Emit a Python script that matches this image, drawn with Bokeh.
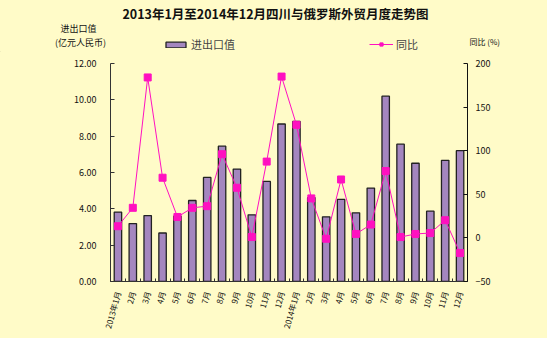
from bokeh.plotting import figure
from bokeh.layouts import column
from bokeh.models import (Range1d, LinearAxis, FixedTicker, Label, Legend, LegendItem,
                          ColumnDataSource)
from bokeh.embed import file_html
from bokeh.resources import INLINE

months = ["2013年1月", "2月", "3月", "4月", "5月", "6月", "7月", "8月", "9月", "10月", "11月", "12月",
          "2014年1月", "2月", "3月", "4月", "5月", "6月", "7月", "8月", "9月", "10月", "11月", "12月"]
trade_value = [3.82, 3.19, 3.63, 2.67, 3.60, 4.46, 5.73, 7.45, 6.19, 3.67, 5.51, 8.67,
               8.81, 4.62, 3.56, 4.52, 3.78, 5.14, 10.20, 7.56, 6.51, 3.87, 6.67, 7.20]
yoy = [13.4, 34.5, 184, 69, 24, 34.5, 36.4, 96, 57.5, 1, 87.5, 185,
       129.7, 45.3, -1, 67, 4.5, 15.3, 76.7, 1, 4.5, 5.6, 20.3, -17.4]
left_ticks = [0, 2, 4, 6, 8, 10, 12]
right_ticks = [-50, 0, 50, 100, 150, 200]

BG = "#FFFBC8"
BAR = "#A486BF"
LINE = "#FF10C0"
FONT = "Noto Sans CJK SC"
W = 547
HEAD_H = 52
FL, FR = 110, 80

x = list(range(1, len(months) + 1))
src = ColumnDataSource(dict(x=x, v=trade_value, y=yoy))

# ---------- header (title, axis captions, legend) ----------
h = figure(width=W, height=HEAD_H, output_backend="svg", toolbar_location=None,
           x_range=Range1d(0.5, 24.5), y_range=Range1d(0, 1),
           x_axis_location=None, y_axis_location=None,
           min_border_left=0, min_border_right=0, min_border_top=0, min_border_bottom=0,
           background_fill_color=BG, border_fill_color=BG, outline_line_color=None)
h.frame_align = False
h.xgrid.visible = False
h.ygrid.visible = False

proxy = ColumnDataSource(dict(x=[-10], v=[0], y=[0]))
key_bar = h.vbar(x="x", top="v", width=0.5, source=proxy, fill_color=BAR,
                 line_color="#222222", line_width=1.3)
key_line = h.line(x="x", y="y", source=proxy, line_color=LINE, line_width=1)
key_pt = h.scatter(x="x", y="y", source=proxy, marker="square", size=7,
                   fill_color=LINE, line_color=LINE)

def lab(text, cx, cy, size="9px", bold=False, align="left"):
    h.add_layout(Label(x=cx, y=HEAD_H - cy, x_units="screen", y_units="screen", text=text,
                       text_font=FONT, text_font_size=size, text_color="#111111",
                       text_font_style="bold" if bold else "normal", text_align=align,
                       text_baseline="middle"))

lab("2013年1月至2014年12月四川与俄罗斯外贸月度走势图", 275, 13, size="12.5px", bold=True, align="center")
lab("进出口值", 78, 28, size="9px", align="center")
lab("(亿元人民币)", 80, 42, size="9px", align="center")
lab("同比 (%)", 469, 41, size="8px")

leg1 = Legend(items=[LegendItem(label="进出口值", renderers=[key_bar])], location=(163, 0),
              background_fill_alpha=0, border_line_color=None, label_text_font=FONT,
              label_text_font_size="11px", glyph_width=25, glyph_height=7, padding=0, margin=0,
              label_standoff=3)
leg2 = Legend(items=[LegendItem(label="同比", renderers=[key_line, key_pt])], location=(369, 0),
              background_fill_alpha=0, border_line_color=None, label_text_font=FONT,
              label_text_font_size="11px", glyph_width=24, glyph_height=8, padding=0, margin=0,
              label_standoff=3)
h.add_layout(leg1, "center")
h.add_layout(leg2, "center")

# ---------- main chart ----------
p = figure(width=W, height=338 - HEAD_H, output_backend="svg", toolbar_location=None,
           x_range=Range1d(0.5, 24.5), y_range=Range1d(0, 12),
           min_border_left=FL, min_border_right=FR, min_border_top=11, min_border_bottom=57,
           background_fill_color=BG, border_fill_color=BG, outline_line_color=None)
p.frame_align = False
p.extra_y_ranges = {"pct": Range1d(-50, 200)}
p.xgrid.visible = False
p.ygrid.visible = False

p.vbar(x="x", top="v", width=0.5, source=src, fill_color=BAR, line_color="#222222", line_width=1.3)
p.line(x="x", y="y", source=src, y_range_name="pct", line_color=LINE, line_width=1)
p.scatter(x="x", y="y", source=src, y_range_name="pct", marker="square", size=7,
          fill_color=LINE, line_color=LINE)

ya = p.yaxis[0]
ya.ticker = FixedTicker(ticks=left_ticks)
ya.major_label_overrides = {t: f"{t:.2f}" for t in left_ticks}
ya.major_tick_in = 4
ya.major_tick_out = 0
ya.minor_tick_line_color = None
ya.axis_line_color = "#333333"
ya.major_tick_line_color = "#333333"
ya.major_label_text_font = FONT
ya.major_label_text_font_size = "9px"
ya.major_label_text_color = "#111111"
ya.major_label_standoff = 14

ra = LinearAxis(y_range_name="pct", ticker=FixedTicker(ticks=right_ticks))
ra.major_tick_in = 4
ra.major_tick_out = 0
ra.minor_tick_line_color = None
ra.axis_line_color = "#111111"
ra.major_tick_line_color = "#111111"
ra.major_label_text_font = FONT
ra.major_label_text_font_size = "9px"
ra.major_label_text_color = "#111111"
ra.major_label_standoff = 8
p.add_layout(ra, "right")

xa = p.xaxis[0]
xa.ticker = FixedTicker(ticks=x, minor_ticks=[i + 0.5 for i in range(0, 25)])
xa.major_label_overrides = {i: m for i, m in zip(x, months)}
xa.major_tick_line_color = None
xa.minor_tick_in = 3
xa.minor_tick_out = 0
xa.minor_tick_line_color = "#333333"
xa.axis_line_color = "#333333"
xa.major_label_orientation = 1.3
xa.major_label_text_font = FONT
xa.major_label_text_font_size = "8px"
xa.major_label_text_color = "#111111"
xa.major_label_standoff = 4

page = column(h, p, spacing=0, styles={"background-color": BG})
open("out.html", "w").write(file_html(page, INLINE))
